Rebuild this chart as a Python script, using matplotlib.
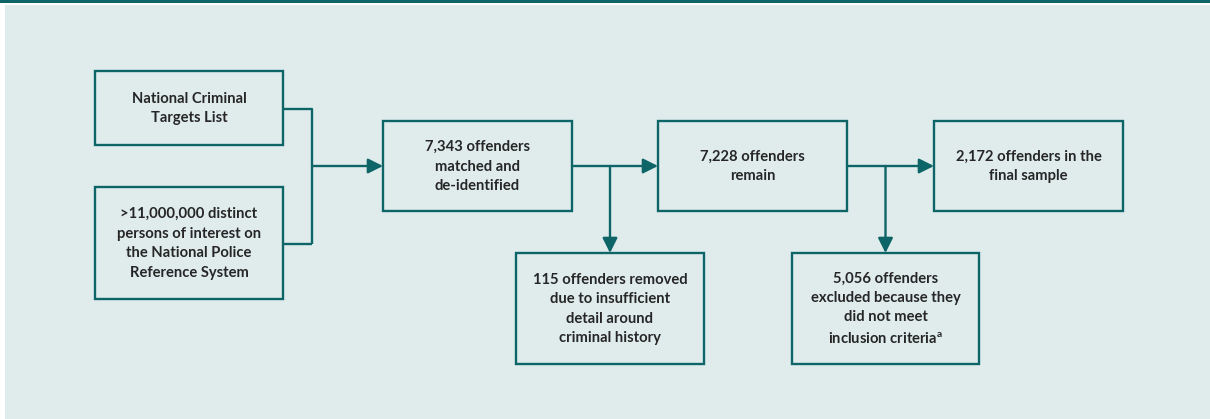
import matplotlib
matplotlib.use("Agg")
import matplotlib.pyplot as plt
from matplotlib.patches import Rectangle

plt.rcParams['font.family'] = ['Lato', 'DejaVu Sans']
plt.rcParams['mathtext.fontset'] = 'custom'
plt.rcParams['mathtext.rm'] = 'Lato:bold'
plt.rcParams['mathtext.bf'] = 'Lato:bold'

# ---- content ----
box_labels = [
    "National Criminal\nTargets List",
    ">11,000,000 distinct\npersons of interest on\nthe National Police\nReference System",
    "7,343 offenders\nmatched and\nde-identified",
    "7,228 offenders\nremain",
    "2,172 offenders in the\nfinal sample",
    "115 offenders removed\ndue to insufficient\ndetail around\ncriminal history",
    "5,056 offenders\nexcluded because they\ndid not meet\ninclusion criteria$^{\\mathrm{a}}$",
]

# ---- layout (pixels: x0, y0, x1, y1) ----
box_rects = [
    (95, 71, 283, 145),
    (95, 187, 283, 299),
    (383, 121, 572, 211),
    (658, 121, 847, 211),
    (934, 121, 1123, 211),
    (516, 253, 704, 364),
    (792, 253, 979, 364),
]

W, H = 1210, 419
TEAL = '#0e6567'
BG = '#e0ecec'
TXT = '#262626'
LW = 1.7

fig = plt.figure(figsize=(W / 100, H / 100), dpi=100)
fig.patch.set_facecolor('white')
ax = fig.add_axes([0, 0, 1, 1])
ax.set_xlim(0, W)
ax.set_ylim(H, 0)
ax.axis('off')

# background panel and top bar
ax.add_patch(Rectangle((5, 5), W - 5, H - 5, facecolor=BG, edgecolor='none', zorder=0))
ax.add_patch(Rectangle((0, 0), W, 3.2, facecolor=TEAL, edgecolor='none', zorder=0))

for (x0, y0, x1, y1), lab in zip(box_rects, box_labels):
    ax.add_patch(Rectangle((x0, y0), x1 - x0, y1 - y0, facecolor='none',
                           edgecolor=TEAL, linewidth=LW, zorder=2))
    ax.text((x0 + x1) / 2, (y0 + y1) / 2 + 0.5, lab, ha='center', va='center',
            fontsize=10.6, fontweight='bold', color=TXT, linespacing=1.5, zorder=3)

def line(xs, ys):
    ax.plot(xs, ys, color=TEAL, linewidth=LW, solid_capstyle='butt', zorder=2)

def arrow(x0, y0, x1, y1):
    ax.annotate('', xy=(x1, y1), xytext=(x0, y0),
                arrowprops=dict(arrowstyle='-|>,head_length=0.9,head_width=0.45',
                                color=TEAL, linewidth=LW, shrinkA=0, shrinkB=0),
                zorder=3)

# merge connector
b1, b2, b3, b4, b5, b6, b7 = box_rects
mx = 312
y1c = 109
y2c = 244
yc = (b3[1] + b3[3]) / 2
line([b1[2], mx, mx], [y1c, y1c, y2c])
line([b2[2], mx], [y2c, y2c])
arrow(mx, yc, b3[0], yc)

# step 3 -> 4 with branch down
arrow(b3[2], yc, b4[0], yc)
bx1 = (b6[0] + b6[2]) / 2
arrow(bx1, yc, bx1, b6[1])

# step 4 -> 5 with branch down
arrow(b4[2], yc, b5[0], yc)
bx2 = (b7[0] + b7[2]) / 2
arrow(bx2, yc, bx2, b7[1])

fig.savefig('out.png', dpi=100, facecolor='white')
